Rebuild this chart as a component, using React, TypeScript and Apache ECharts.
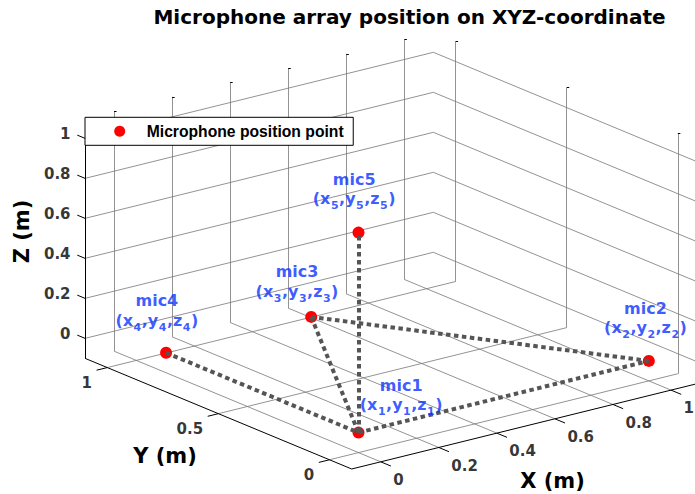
import React, { useEffect, useRef } from 'react';
import * as echarts from 'echarts';

const W = 695;
const H = 494;

// ---------- data ----------
const TITLE = 'Microphone array position on XYZ-coordinate';
const SERIES_NAME = 'Microphone position point';
const MIC_NAMES = ['mic1', 'mic2', 'mic3', 'mic4', 'mic5'];
const MIC_X = [0, 1, 0.5, 0, 0];
const MIC_Y = [0, 0, 0.866, 0.866, 0];
const MIC_Z = [0, 0, 0, 0, 1];
const LINKS: [number, number][] = [[3, 0], [0, 1], [1, 2], [2, 0], [0, 4]];
const X_TICKS = [0, 0.2, 0.4, 0.6, 0.8, 1];
const Y_TICKS = [0, 0.5, 1];
const Z_TICKS = [0, 0.2, 0.4, 0.6, 0.8, 1];
const X_LIM = [-0.1, 1.1];
const Y_LIM = [-0.1, 1.1];
const Z_LIM = [-0.1, 1.1];
const X_NAME = 'X (m)';
const Y_NAME = 'Y (m)';
const Z_NAME = 'Z (m)';

// ---------- view (orthographic projection, az=-37.5, el=30, stretched to fill) ----------
const ORIGIN = [358.5, 432.6];
const UX = [290.3, -71.7];
const UY = [-222.2, -92.2];
const UZ = [0, -200];

// label offsets of the mic annotations (relative to the marker)
const MIC_LABEL_OFFSETS: [number, number][] = [
  [42.7, -18.3],
  [-3.3, -23.7],
  [-14.2, -16.3],
  [-9.2, -23.0],
  [-4.3, -24.4],
];

const FONT = "'DejaVu Sans', sans-serif";
const LEGEND_FONT = "'Liberation Sans', Arial, sans-serif";
const GRID_COLOR = '#777777';
const LABEL_BLUE = '#0a32ff';

function proj(x: number, y: number, z: number): number[] {
  return [
    ORIGIN[0] + x * UX[0] + y * UY[0] + z * UZ[0],
    ORIGIN[1] + x * UX[1] + y * UY[1] + z * UZ[1],
  ];
}
function unit(v: number[], s = 1): number[] {
  const l = Math.hypot(v[0], v[1]);
  return [(s * v[0]) / l, (s * v[1]) / l];
}
function move(p: number[], d: number[], len: number): number[] {
  return [p[0] + d[0] * len, p[1] + d[1] * len];
}
function seg(a: number[], b: number[]) {
  return { coords: [a, b] };
}

const [X0, X1] = X_LIM;
const [Y0, Y1] = Y_LIM;
const [Z0, Z1] = Z_LIM;

function buildOption() {
  const gridSegs: any[] = [];
  X_TICKS.forEach((x) => {
    gridSegs.push(seg(proj(x, Y0, Z0), proj(x, Y1, Z0)));
    gridSegs.push(seg(proj(x, Y1, Z0), proj(x, Y1, Z1)));
  });
  Y_TICKS.forEach((y) => {
    gridSegs.push(seg(proj(X0, y, Z0), proj(X1, y, Z0)));
    gridSegs.push(seg(proj(X1, y, Z0), proj(X1, y, Z1)));
  });
  Z_TICKS.forEach((z) => {
    gridSegs.push(seg(proj(X0, Y1, z), proj(X1, Y1, z)));
    gridSegs.push(seg(proj(X1, Y0, z), proj(X1, Y1, z)));
  });

  const axisSegs = [
    seg(proj(X0, Y0, Z0), proj(X1, Y0, Z0)),
    seg(proj(X0, Y0, Z0), proj(X0, Y1, Z0)),
    seg(proj(X0, Y1, Z0), proj(X0, Y1, Z1)),
  ];

  const dirMinusY = unit(UY, -1);
  const dirMinusX = unit(UX, -1);
  const dirPlusY = unit(UY, 1);
  const tickSegs: any[] = [];
  X_TICKS.forEach((x) => {
    const p = proj(x, Y0, Z0);
    tickSegs.push(seg(p, move(p, dirMinusY, 11)));
    const q = proj(x, Y1, Z1);
    tickSegs.push(seg(q, move(q, [1, 0], 2.5)));
  });
  Y_TICKS.forEach((y) => {
    const p = proj(X0, y, Z0);
    tickSegs.push(seg(p, move(p, dirMinusX, 11)));
    const q = proj(X1, y, Z1);
    tickSegs.push(seg(q, move(q, [1, 0], 2.5)));
  });
  Z_TICKS.forEach((z) => {
    const p = proj(X0, Y1, z);
    tickSegs.push(seg(p, move(p, dirPlusY, 8.4)));
  });

  const micPts = MIC_NAMES.map((_, i) => proj(MIC_X[i], MIC_Y[i], MIC_Z[i]));
  const linkSegs = LINKS.map(([a, b]) => seg(micPts[a], micPts[b]));

  const tickLabelBase = {
    show: true,
    formatter: '{b}',
    color: '#000',
    fontFamily: FONT,
    fontWeight: 'bold' as const,
    fontSize: 15,
  };
  const invisible = { color: 'rgba(0,0,0,0)' };

  const richHead = { fontFamily: FONT, fontWeight: 'bold' as const, fontSize: 16, lineHeight: 20, color: LABEL_BLUE, verticalAlign: 'middle' as const };
  const richMain = { fontFamily: FONT, fontWeight: 'bold' as const, fontSize: 16, lineHeight: 19, color: LABEL_BLUE, verticalAlign: 'middle' as const };
  const richSub = { fontFamily: FONT, fontWeight: 'bold' as const, fontSize: 11, lineHeight: 13, padding: [14, 0.5, 0, 0.5], color: LABEL_BLUE, verticalAlign: 'middle' as const };

  const nameStyle = { fontFamily: FONT, fontWeight: 'bold', fontSize: 21, fill: '#000', align: 'center', verticalAlign: 'middle', textAlign: 'center', textVerticalAlign: 'middle' };

  return {
    animation: false,
    backgroundColor: '#ffffff',
    grid: { left: 0, top: 0, width: W, height: H, containLabel: false },
    xAxis: { type: 'value', min: 0, max: W, show: false },
    yAxis: { type: 'value', min: 0, max: H, inverse: true, show: false },
    legend: {
      data: [SERIES_NAME],
      left: 85,
      top: 117.3,
      orient: 'horizontal',
      padding: [6, 9.6, 6, 29.2],
      itemWidth: 44,
      itemHeight: 11,
      icon: 'circle',
      backgroundColor: '#ffffff',
      borderColor: '#000000',
      borderWidth: 1,
      borderRadius: 0,
      selectedMode: false,
      z: 10,
      textStyle: { fontFamily: LEGEND_FONT, fontWeight: 'bold', fontSize: 15.7, color: '#000' },
    },
    graphic: [
      {
        type: 'text', x: 409.5, y: 17, silent: true,
        style: { ...nameStyle, text: TITLE, fontSize: 20 },
      },
      { type: 'text', x: 552.5, y: 481, silent: true, style: { ...nameStyle, text: X_NAME } },
      { type: 'text', x: 165, y: 456, silent: true, style: { ...nameStyle, text: Y_NAME } },
      { type: 'text', x: 21.5, y: 231.5, rotation: Math.PI / 2, silent: true, style: { ...nameStyle, text: Z_NAME } },
    ],
    series: [
      {
        type: 'lines', coordinateSystem: 'cartesian2d', polyline: false, silent: true, z: 1,
        lineStyle: { color: GRID_COLOR, width: 0.8, opacity: 1 },
        data: gridSegs,
      },
      {
        type: 'lines', coordinateSystem: 'cartesian2d', polyline: false, silent: true, z: 2,
        lineStyle: { color: '#000', width: 1, opacity: 1 },
        data: axisSegs.concat(tickSegs),
      },
      {
        type: 'scatter', silent: true, z: 2, symbolSize: 1, itemStyle: invisible,
        data: Z_TICKS.map((z) => ({ name: String(z), value: proj(X0, Y1, z) })),
        label: { ...tickLabelBase, position: 'left', distance: 14, offset: [0, -4.4] },
      },
      {
        type: 'scatter', silent: true, z: 2, symbolSize: 1, itemStyle: invisible,
        data: Y_TICKS.map((y) => ({ name: String(y), value: proj(X0, y, Z0) })),
        label: { ...tickLabelBase, position: 'left', distance: 14.8, offset: [0, 15.3] },
      },
      {
        type: 'scatter', silent: true, z: 2, symbolSize: 1, itemStyle: invisible,
        data: X_TICKS.map((x) => ({ name: String(x), value: proj(x, Y0, Z0) })),
        label: { ...tickLabelBase, position: 'right', distance: 12, offset: [0, 18.3] },
      },
      {
        name: SERIES_NAME,
        type: 'scatter', silent: true, z: 3,
        symbol: 'circle', symbolSize: 12,
        itemStyle: { color: '#ff0000', opacity: 1 },
        data: MIC_NAMES.map((n, i) => ({ name: n, value: micPts[i] })),
      },
      {
        type: 'lines', coordinateSystem: 'cartesian2d', polyline: false, silent: true, z: 4,
        lineStyle: { color: '#555555', width: 4, type: [4.5, 3.5], cap: 'butt', opacity: 1 },
        data: linkSegs,
      },
      {
        type: 'scatter', silent: true, z: 5, symbolSize: 1, itemStyle: invisible,
        data: MIC_NAMES.map((n, i) => ({
          name: n,
          value: micPts[i],
          label: { offset: MIC_LABEL_OFFSETS[i] },
        })),
        label: {
          show: true,
          position: 'inside',
          align: 'center',
          verticalAlign: 'bottom',
          color: LABEL_BLUE,
          formatter: (p: any) => {
            const k = String(p.name).replace('mic', '');
            return `{m|${p.name}}\n{p|(x}{s|${k}}{p|,y}{s|${k}}{p|,z}{s|${k}}{p|)}`;
          },
          rich: { m: richHead, p: richMain, s: richSub },
        },
      },
    ],
  };
}

export default function App() {
  const ref = useRef<HTMLDivElement>(null);
  useEffect(() => {
    document.body.style.margin = '0';
    const chart = echarts.init(ref.current as HTMLDivElement, null, { renderer: 'svg' });
    chart.setOption(buildOption() as any);
    return () => chart.dispose();
  }, []);
  return <div ref={ref} style={{ width: W, height: H }} />;
}
